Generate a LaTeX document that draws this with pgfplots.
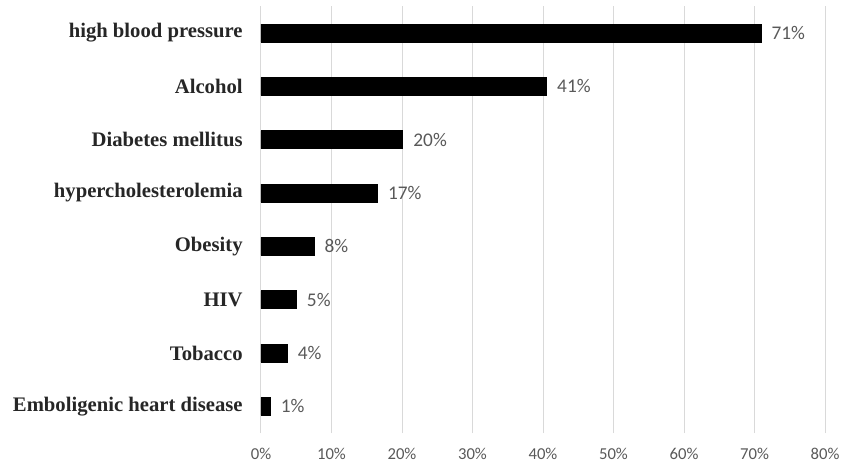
\documentclass[border=0pt]{standalone}
\usepackage{fontspec}
\setmainfont{Liberation Serif}
\newfontfamily\carlito{Carlito}
\usepackage{pgfplots}
\pgfplotsset{compat=1.18}
\definecolor{gridgray}{HTML}{D9D9D9}
\definecolor{ticktext}{HTML}{595959}
\definecolor{labeltext}{HTML}{262626}

\begin{document}
\begin{tikzpicture}
\path[use as bounding box] (-195.75pt,-23.25pt) rectangle (435pt,324.75pt);
\begin{axis}[
    at={(0,0)}, anchor=south west,
    scale only axis,
    width=423pt, height=320pt,
    xbar,
    bar width=13.5pt,
    xmin=0, xmax=80,
    ymin=-0.5, ymax=7.5,
    xtick={0,10,...,80},
    xticklabel={\pgfmathprintnumber{\tick}\%},
    ytick=data,
    yticklabels={Emboligenic heart disease, Tobacco, HIV, Obesity,
                 hypercholesterolemia, Diabetes mellitus, Alcohol, high blood pressure},
    xmajorgrids,
    major grid style={gridgray, line width=0.75pt},
    axis line style={draw=none},
    tick style={draw=none},
    /pgf/number format/assume math mode=true,
    xticklabel style={font=\carlito\fontsize{12.5pt}{14pt}\selectfont, text=ticktext, yshift=-8pt},
    yticklabel style={font=\bfseries\fontsize{15.5pt}{17pt}\selectfont, text=labeltext, xshift=-6pt},
    point meta=explicit symbolic,
    nodes near coords,
    every node near coord/.append style={font=\carlito\fontsize{14.5pt}{16pt}\selectfont,
        text=ticktext, anchor=west, xshift=4.5pt},
]
\addplot[fill=black, draw=black] coordinates {
    (1.3,0) [1\%]
    (3.7,1) [4\%]
    (5.0,2) [5\%]
    (7.5,3) [8\%]
    (16.5,4) [17\%]
    (20.1,5) [20\%]
    (40.5,6) [41\%]
    (70.9,7) [71\%]
};
\end{axis}
\end{tikzpicture}
\end{document}
